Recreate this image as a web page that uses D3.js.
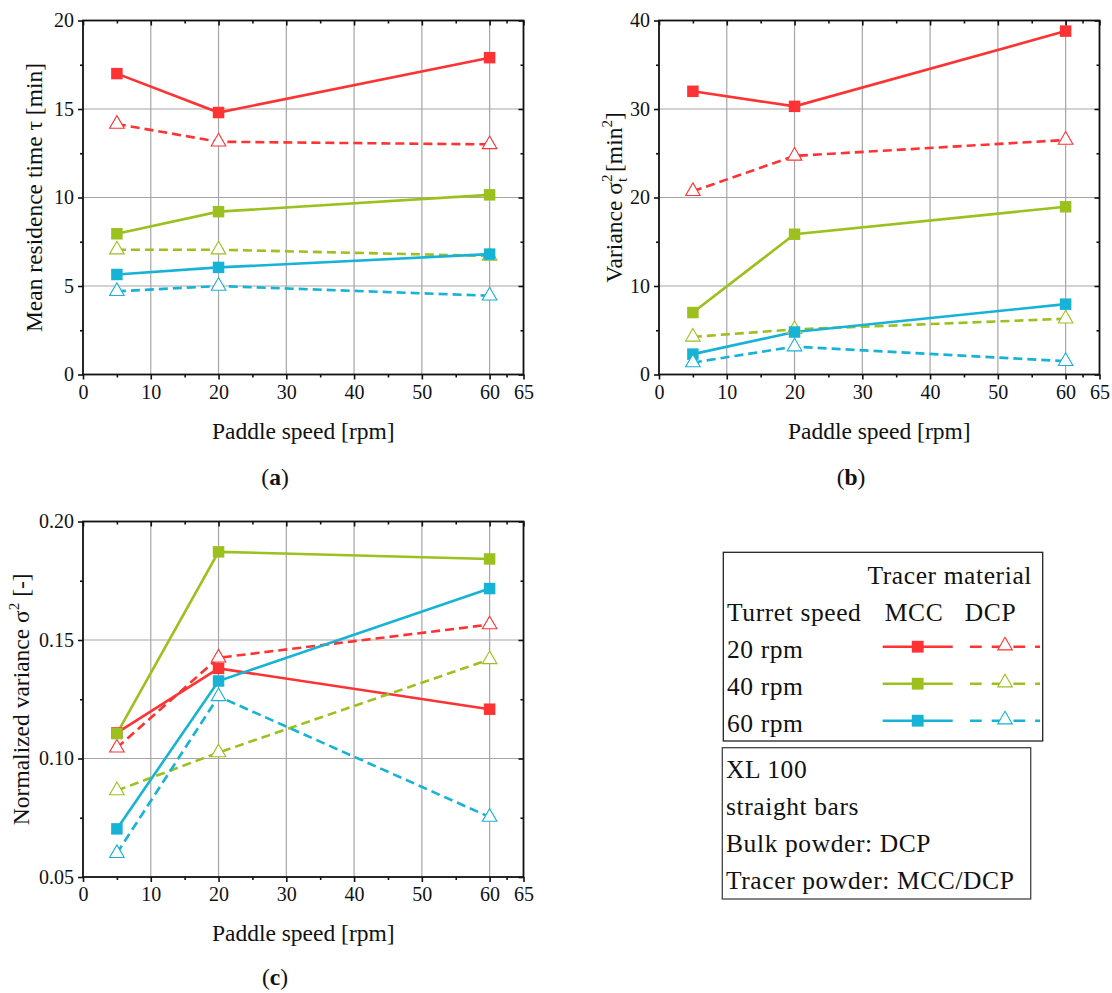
<!DOCTYPE html>
<html><head><meta charset="utf-8">
<script src="https://cdn.jsdelivr.net/npm/d3@7/dist/d3.min.js"></script>
<style>body{margin:0;background:#fff}svg{display:block}text{font-family:"Liberation Serif","Times New Roman",serif;fill:#111}</style>
</head><body><svg id="c" width="1112" height="993"></svg>
<script>
// ---- data ----
const paddleSpeed = [5, 20, 60];
const turretSpeeds = ["20 rpm", "40 rpm", "60 rpm"];
const xTicks = [0, 10, 20, 30, 40, 50, 60, 65];
const xMinor = [5, 15, 25, 35, 45, 55, 62.5];

// (a) mean residence time [min]
const tauMCC20 = [17.0, 14.8, 17.9];
const tauDCP20 = [14.15, 13.15, 13.0];
const tauMCC40 = [7.95, 9.2, 10.15];
const tauDCP40 = [7.05, 7.05, 6.7];
const tauMCC60 = [5.65, 6.05, 6.8];
const tauDCP60 = [4.7, 5.0, 4.45];
const tauTicks = [0, 5, 10, 15, 20];
const tauMinor = [2.5, 7.5, 12.5, 17.5];

// (b) variance [min^2]
const varMCC20 = [32.0, 30.3, 38.8];
const varDCP20 = [20.7, 24.7, 26.5];
const varMCC40 = [7.0, 15.85, 18.95];
const varDCP40 = [4.25, 5.1, 6.3];
const varMCC60 = [2.3, 4.8, 7.95];
const varDCP60 = [1.35, 3.15, 1.5];
const varTicks = [0, 10, 20, 30, 40];
const varMinor = [5, 15, 25, 35];

// (c) normalized variance [-]
const normMCC20 = [0.1108, 0.138, 0.1208];
const normDCP20 = [0.1045, 0.1425, 0.1565];
const normMCC40 = [0.1105, 0.1872, 0.1842];
const normDCP40 = [0.0865, 0.1025, 0.1418];
const normMCC60 = [0.0703, 0.1327, 0.1717];
const normDCP60 = [0.0600, 0.1262, 0.0753];
const normTicks = [0.05, 0.10, 0.15, 0.20];
const normMinor = [0.075, 0.125, 0.175];

const boxInfo = ["XL 100", "straight bars", "Bulk powder: DCP", "Tracer powder: MCC/DCP"];

// ---- styles ----
const colors = ["#ff3333", "#9cc01e", "#17b3d6"];
const DASH = "9,5";
const TICK_FS = 20, TITLE_FS = 23.5, LEG_FS = 25.5;

const svg = d3.select("#c");
svg.append("rect").attr("width", 1112).attr("height", 993).attr("fill", "#fff");

function panel(cfg) {
  const g = svg.append("g");
  const x = d3.scaleLinear().domain([0, 65]).range([cfg.x0, cfg.x1]);
  const y = d3.scaleLinear().domain(cfg.ydom).range([cfg.y1, cfg.y0]);
  // grid
  g.append("g").selectAll("line").data(xTicks.filter(v => v > 0 && v < 65)).join("line")
    .attr("x1", d => x(d)).attr("x2", d => x(d)).attr("y1", cfg.y0).attr("y2", cfg.y1)
    .attr("stroke", "#a6a6a6").attr("stroke-width", 1.2);
  g.append("g").selectAll("line").data(cfg.yTicks.slice(1, -1)).join("line")
    .attr("y1", d => y(d)).attr("y2", d => y(d)).attr("x1", cfg.x0).attr("x2", cfg.x1)
    .attr("stroke", "#a6a6a6").attr("stroke-width", 1.2);

  const styleAxis = sel => {
    sel.select(".domain").remove();
    sel.selectAll("line").attr("stroke", "#111").attr("stroke-width", 1.6);
    sel.selectAll("text").attr("font-size", TICK_FS).attr("font-family", "Liberation Serif").attr("fill", "#111");
  };
  // bottom
  g.append("g").attr("transform", `translate(0,${cfg.y1})`)
    .call(d3.axisBottom(x).tickValues(xTicks).tickSize(5).tickPadding(5).tickFormat(d3.format("d"))).call(styleAxis);
  g.append("g").attr("transform", `translate(0,${cfg.y1})`)
    .call(d3.axisBottom(x).tickValues(xMinor).tickSize(3).tickFormat("")).call(styleAxis);
  // top (inward)
  g.append("g").attr("transform", `translate(0,${cfg.y0})`)
    .call(d3.axisBottom(x).tickValues(xTicks).tickSize(5).tickFormat("")).call(styleAxis);
  g.append("g").attr("transform", `translate(0,${cfg.y0})`)
    .call(d3.axisBottom(x).tickValues(xMinor).tickSize(3).tickFormat("")).call(styleAxis);
  // left
  g.append("g").attr("transform", `translate(${cfg.x0},0)`)
    .call(d3.axisLeft(y).tickValues(cfg.yTicks).tickSize(5).tickPadding(4).tickFormat(cfg.fmt)).call(styleAxis);
  g.append("g").attr("transform", `translate(${cfg.x0},0)`)
    .call(d3.axisLeft(y).tickValues(cfg.yMinor).tickSize(3).tickFormat("")).call(styleAxis);
  // right (inward)
  g.append("g").attr("transform", `translate(${cfg.x1},0)`)
    .call(d3.axisLeft(y).tickValues(cfg.yTicks).tickSize(5).tickFormat("")).call(styleAxis);
  g.append("g").attr("transform", `translate(${cfg.x1},0)`)
    .call(d3.axisLeft(y).tickValues(cfg.yMinor).tickSize(3).tickFormat("")).call(styleAxis);
  // frame
  g.append("rect").attr("x", cfg.x0).attr("y", cfg.y0).attr("width", cfg.x1 - cfg.x0).attr("height", cfg.y1 - cfg.y0)
    .attr("fill", "none").attr("stroke", "#111").attr("stroke-width", 1.8);

  const line = d3.line().x((d, i) => x(paddleSpeed[i])).y(d => y(d));
  cfg.series.forEach((s, k) => {
    const c = colors[k];
    g.append("path").datum(s.dcp).attr("d", line).attr("fill", "none").attr("stroke", c)
      .attr("stroke-width", 2.6).attr("stroke-dasharray", DASH);
    g.append("path").datum(s.mcc).attr("d", line).attr("fill", "none").attr("stroke", c)
      .attr("stroke-width", 2.6);
  });
  cfg.series.forEach((s, k) => {
    const c = colors[k];
    g.append("g").selectAll("path").data(s.mcc).join("path")
      .attr("transform", (d, i) => `translate(${x(paddleSpeed[i])},${y(d)})`)
      .attr("d", d3.symbol(d3.symbolSquare, 132)).attr("fill", c);
    g.append("g").selectAll("path").data(s.dcp).join("path")
      .attr("transform", (d, i) => `translate(${x(paddleSpeed[i])},${y(d)})`)
      .attr("d", d3.symbol(d3.symbolTriangle, 92)).attr("fill", "#fff").attr("stroke", c).attr("stroke-width", 1.1);
  });

  // axis titles
  g.append("text").attr("x", (cfg.x0 + cfg.x1) / 2).attr("y", cfg.y1 + 64).attr("text-anchor", "middle")
    .attr("font-size", TITLE_FS).text("Paddle speed [rpm]");
  const yt = g.append("text").attr("transform", `translate(${cfg.ylabX},${(cfg.y0 + cfg.y1) / 2}) rotate(-90)`)
    .attr("text-anchor", "middle").attr("font-size", TITLE_FS);
  cfg.ylab(yt);
  const sub = g.append("text").attr("x", cfg.subX).attr("y", cfg.subY).attr("text-anchor", "middle").attr("font-size", TITLE_FS);
  sub.append("tspan").text("(");
  sub.append("tspan").attr("font-weight", "bold").text(cfg.letter);
  sub.append("tspan").text(")");
}

panel({
  x0: 83, x1: 523.5, y0: 20.5, y1: 374.5, ydom: [0, 20], yTicks: tauTicks, yMinor: tauMinor, fmt: d3.format("d"),
  series: [{mcc: tauMCC20, dcp: tauDCP20}, {mcc: tauMCC40, dcp: tauDCP40}, {mcc: tauMCC60, dcp: tauDCP60}],
  ylabX: 42, subX: 275, subY: 485, letter: "a",
  ylab: t => t.text("Mean residence time \u03c4 [min]")
});
panel({
  x0: 659, x1: 1099.5, y0: 20.5, y1: 374.5, ydom: [0, 40], yTicks: varTicks, yMinor: varMinor, fmt: d3.format("d"),
  series: [{mcc: varMCC20, dcp: varDCP20}, {mcc: varMCC40, dcp: varDCP40}, {mcc: varMCC60, dcp: varDCP60}],
  ylabX: 622, subX: 851, subY: 485, letter: "b",
  ylab: t => {
    t.append("tspan").text("Variance \u03c3");
    t.append("tspan").attr("font-size", 15).attr("dy", "-10").text("2");
    t.append("tspan").attr("font-size", 15).attr("dx", "-7.5").attr("dy", "15").text("t");
    t.append("tspan").attr("dy", "-5").text(" [min");
    t.append("tspan").attr("font-size", 15).attr("dy", "-10").text("2");
    t.append("tspan").attr("dy", "10").text("]");
  }
});
panel({
  x0: 83, x1: 523.5, y0: 521.5, y1: 877, ydom: [0.05, 0.20], yTicks: normTicks, yMinor: normMinor, fmt: d3.format(".2f"),
  series: [{mcc: normMCC20, dcp: normDCP20}, {mcc: normMCC40, dcp: normDCP40}, {mcc: normMCC60, dcp: normDCP60}],
  ylabX: 29, subX: 275, subY: 985, letter: "c",
  ylab: t => {
    t.append("tspan").text("Normalized variance \u03c3");
    t.append("tspan").attr("font-size", 15).attr("dy", "-10").text("2");
    t.append("tspan").attr("dy", "10").text(" [-]");
  }
});

// ---- legend ----
const lg = svg.append("g").attr("letter-spacing", 0.6);
lg.append("rect").attr("x", 723.3).attr("y", 552.3).attr("width", 319.4).attr("height", 188.7)
  .attr("fill", "#fff").attr("stroke", "#222").attr("stroke-width", 1.3);
lg.append("text").attr("x", 1032).attr("y", 584).attr("text-anchor", "end").attr("font-size", LEG_FS).text("Tracer material");
lg.append("text").attr("x", 727).attr("y", 620.5).attr("font-size", LEG_FS).text("Turret speed");
lg.append("text").attr("x", 914).attr("y", 620.5).attr("text-anchor", "middle").attr("font-size", LEG_FS).text("MCC");
lg.append("text").attr("x", 990.5).attr("y", 620.5).attr("text-anchor", "middle").attr("font-size", LEG_FS).text("DCP");
const rowY = d3.scalePoint().domain(turretSpeeds).range([646.7, 720.7]);
turretSpeeds.forEach((t, k) => {
  const yy = rowY(t), c = colors[k];
  lg.append("text").attr("x", 727).attr("y", yy + 11).attr("font-size", LEG_FS).text(t);
  lg.append("line").attr("x1", 882.7).attr("x2", 952.7).attr("y1", yy).attr("y2", yy).attr("stroke", c).attr("stroke-width", 2.4);
  lg.append("path").attr("transform", `translate(917.7,${yy})`).attr("d", d3.symbol(d3.symbolSquare, 140)).attr("fill", c);
  lg.append("line").attr("x1", 970).attr("x2", 1040).attr("y1", yy).attr("y2", yy).attr("stroke", c).attr("stroke-width", 2.4)
    .attr("stroke-dasharray", "11.7,10");
  lg.append("path").attr("transform", `translate(1005,${yy - 1})`).attr("d", d3.symbol(d3.symbolTriangle, 92))
    .attr("fill", "#fff").attr("stroke", c).attr("stroke-width", 1.1);
});
lg.append("rect").attr("x", 722.3).attr("y", 747.7).attr("width", 308.4).attr("height", 151.3)
  .attr("fill", "#fff").attr("stroke", "#444").attr("stroke-width", 1.3);
const infoY = d3.scaleLinear().domain([0, boxInfo.length - 1]).range([777.5, 888.5]);
lg.selectAll("text.info").data(boxInfo).join("text").attr("class", "info")
  .attr("x", 726).attr("y", (d, i) => infoY(i)).attr("font-size", LEG_FS).text(d => d);
</script></body></html>
